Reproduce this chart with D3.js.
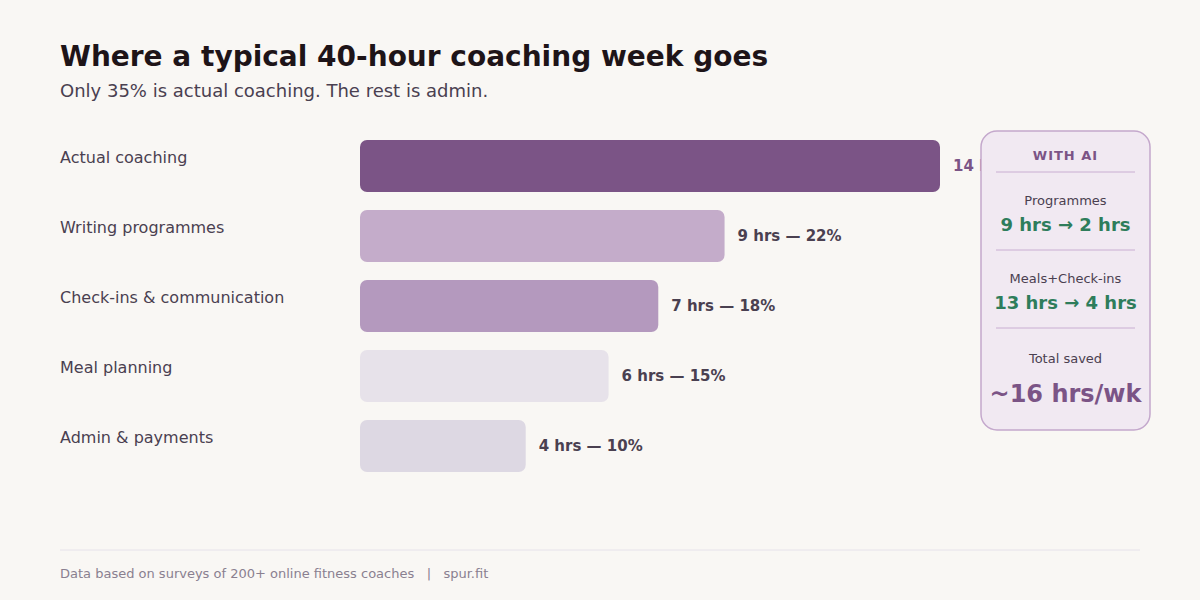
<!DOCTYPE html>
<html>
<head>
<meta charset="utf-8">
<script src="https://cdn.jsdelivr.net/npm/d3@7"></script>
<style>
  html, body { margin: 0; padding: 0; background: #f9f7f4; }
  svg { display: block; font-family: "DejaVu Sans", sans-serif; }
</style>
</head>
<body>
<svg id="chart" width="1200" height="600"></svg>
<script>
const categories = ['Actual coaching', 'Writing programmes', 'Check-ins & communication', 'Meal planning', 'Admin & payments'];
const hours = [14, 9, 7, 6, 4];
const percents = [35, 22, 18, 15, 10];
const barColors = ['#7b5486', '#c4acca', '#b499be', '#e7e2ea', '#ddd8e3'];

const panelRows = [
  { label: 'Programmes', value: '9 hrs \u2192 2 hrs' },
  { label: 'Meals+Check-ins', value: '13 hrs \u2192 4 hrs' }
];
const totalSaved = '~16 hrs/wk';

const svg = d3.select('#chart');
const data = categories.map((c, i) => ({ name: c, hrs: hours[i], pct: percents[i], color: barColors[i] }));

// titles
svg.append('text').attr('x', 60).attr('y', 66)
  .attr('font-size', 28).attr('font-weight', 'bold').attr('fill', '#1e1418')
  .text('Where a typical 40-hour coaching week goes');
svg.append('text').attr('x', 60).attr('y', 97)
  .attr('font-size', 18).attr('fill', '#4a4050')
  .text('Only 35% is actual coaching. The rest is admin.');

// scales: bar length follows share of the week
const x = d3.scaleLinear().domain([0, d3.max(percents)]).range([360, 940]);
const y = d3.scaleBand().domain(categories).range([140, 472]).paddingInner(18 / 70).paddingOuter(0);

const rows = svg.append('g').selectAll('g').data(data).enter().append('g');

rows.append('text')
  .attr('x', 60)
  .attr('y', d => y(d.name) + 23)
  .attr('font-size', 16)
  .attr('fill', '#4a4050')
  .text(d => d.name);

rows.append('rect')
  .attr('x', x(0))
  .attr('y', d => y(d.name))
  .attr('width', d => x(d.pct) - x(0))
  .attr('height', y.bandwidth())
  .attr('rx', 7)
  .attr('fill', d => d.color);

rows.append('text')
  .attr('x', d => x(d.pct) + 13)
  .attr('y', d => y(d.name) + 31)
  .attr('font-size', 15)
  .attr('font-weight', 'bold')
  .attr('fill', (d, i) => i === 0 ? '#7b5486' : '#4a4050')
  .text(d => `${d.hrs} hrs \u2014 ${d.pct}%`);

// side panel (drawn on top, hides the end of the first label like the original)
const panel = svg.append('g');
panel.append('rect')
  .attr('x', 981).attr('y', 131).attr('width', 169).attr('height', 299)
  .attr('rx', 16).attr('fill', '#f1e9f2').attr('stroke', '#c4a8cc').attr('stroke-width', 1.5);
const cx = 1065.5;
panel.append('text').attr('x', cx).attr('y', 160).attr('text-anchor', 'middle')
  .attr('font-size', 13).attr('font-weight', 'bold').attr('letter-spacing', 1)
  .attr('fill', '#7b5486').text('WITH AI');
[172, 250, 328].forEach(yy => {
  panel.append('line').attr('x1', 996).attr('x2', 1135).attr('y1', yy).attr('y2', yy)
    .attr('stroke', '#c9aed2').attr('stroke-width', 1);
});
panelRows.forEach((r, i) => {
  const top = 205 + i * 78;
  panel.append('text').attr('x', cx).attr('y', top).attr('text-anchor', 'middle')
    .attr('font-size', 13).attr('fill', '#4a4050').text(r.label);
  panel.append('text').attr('x', cx).attr('y', top + 26).attr('text-anchor', 'middle')
    .attr('font-size', 18).attr('font-weight', 'bold').attr('fill', '#2e7d5b').text(r.value);
});
panel.append('text').attr('x', cx).attr('y', 363).attr('text-anchor', 'middle')
  .attr('font-size', 13).attr('fill', '#4a4050').text('Total saved');
panel.append('text').attr('x', cx).attr('y', 402).attr('text-anchor', 'middle')
  .attr('font-size', 24).attr('font-weight', 'bold').attr('fill', '#7b5486').text(totalSaved);

// footer
svg.append('line').attr('x1', 60).attr('x2', 1140).attr('y1', 550).attr('y2', 550)
  .attr('stroke', '#e6e2ea').attr('stroke-width', 1);
svg.append('text').attr('x', 60).attr('y', 578)
  .attr('font-size', 13).attr('fill', '#8a8090')
  .style('white-space', 'pre')
  .text('Data based on surveys of 200+ online fitness coaches   |   spur.fit');
</script>
</body>
</html>
